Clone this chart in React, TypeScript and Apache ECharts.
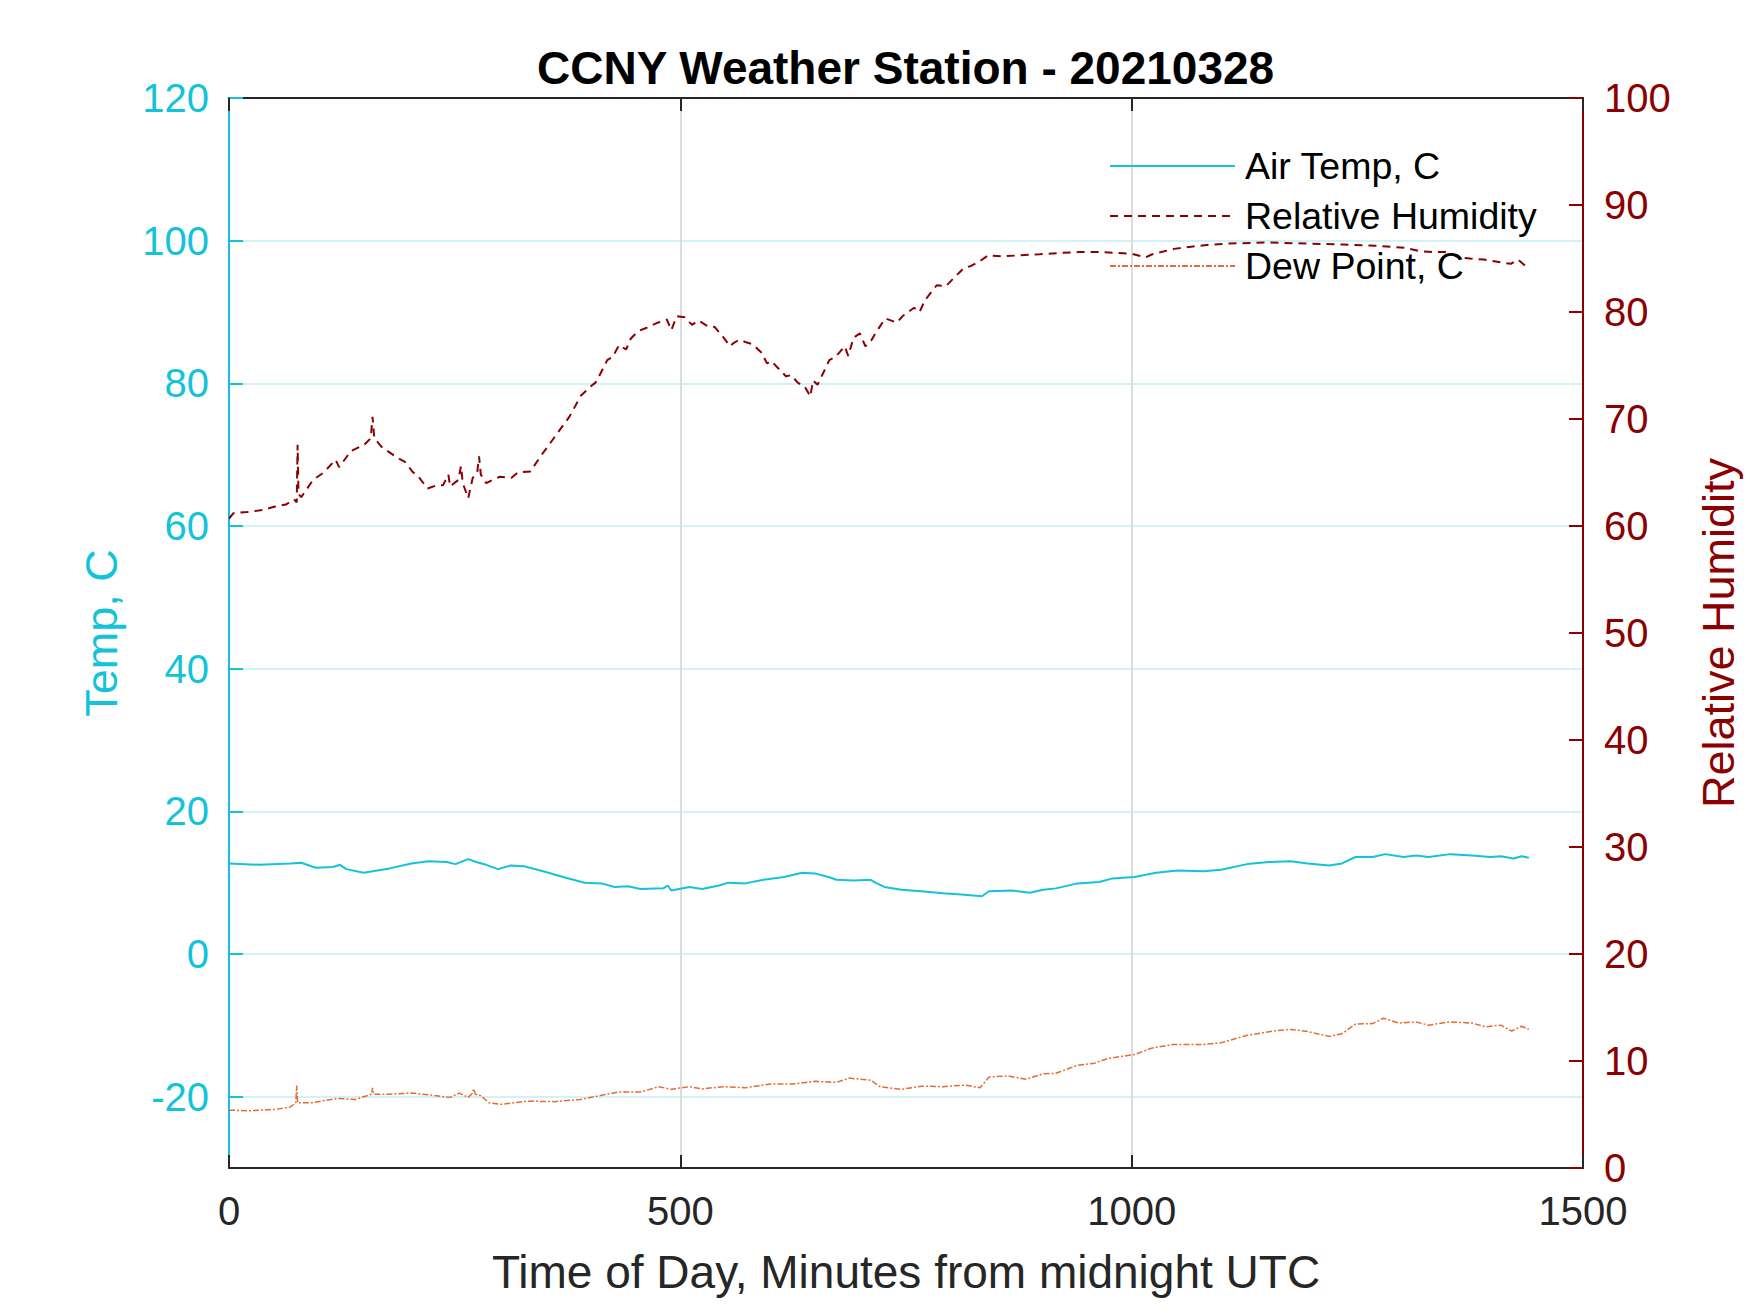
import * as echarts from "echarts";
import { useEffect, useRef } from "react";

// minutes from midnight UTC
const tempMinutes = [0, 34, 68, 80, 96, 115, 123, 130, 149, 178, 202, 221, 241, 251, 265, 274, 285, 298, 312, 327, 351, 370, 394, 413, 427, 442, 456, 481, 486, 490, 510, 524, 543, 553, 572, 592, 615, 635, 649, 664, 673, 692, 711, 716, 726, 745, 767, 791, 815, 834, 842, 868, 887, 902, 916, 940, 964, 979, 1003, 1027, 1051, 1080, 1099, 1128, 1152, 1176, 1195, 1219, 1233, 1248, 1267, 1281, 1301, 1315, 1329, 1353, 1377, 1397, 1409, 1423, 1432, 1440];
const tempValues = [12.7, 12.5, 12.7, 12.8, 12.1, 12.2, 12.5, 11.9, 11.4, 12.0, 12.7, 13.0, 12.9, 12.6, 13.3, 12.9, 12.5, 11.9, 12.4, 12.3, 11.5, 10.8, 10.0, 9.9, 9.4, 9.5, 9.1, 9.2, 9.6, 8.9, 9.4, 9.1, 9.6, 10.0, 9.9, 10.4, 10.8, 11.4, 11.3, 10.8, 10.4, 10.3, 10.4, 10.0, 9.4, 9.0, 8.8, 8.5, 8.3, 8.1, 8.8, 8.9, 8.6, 9.0, 9.2, 9.9, 10.1, 10.6, 10.8, 11.4, 11.7, 11.6, 11.8, 12.6, 12.9, 13.0, 12.7, 12.4, 12.7, 13.6, 13.6, 14.0, 13.6, 13.8, 13.6, 14.0, 13.8, 13.6, 13.7, 13.4, 13.7, 13.5];

const rhMinutes = [0, 5, 20, 38, 50, 63, 72, 75, 76, 77, 80, 85, 93, 105, 118, 122, 135, 150, 157, 159, 161, 169, 186, 195, 203, 210, 220, 230, 237, 243, 245, 254, 257, 259, 265, 270, 275, 277, 279, 285, 292, 300, 313, 320, 334, 345, 352, 364, 377, 390, 400, 406, 410, 419, 425, 432, 440, 445, 453, 462, 475, 485, 490, 496, 505, 513, 520, 530, 538, 548, 555, 559, 565, 572, 580, 590, 596, 601, 610, 617, 623, 630, 638, 644, 647, 652, 660, 665, 672, 682, 686, 692, 699, 705, 712, 716, 727, 740, 746, 759, 765, 771, 784, 794, 801, 814, 822, 831, 841, 856, 877, 898, 917, 941, 966, 991, 1002, 1015, 1023, 1047, 1066, 1088, 1108, 1151, 1193, 1235, 1270, 1303, 1318, 1333, 1350, 1362, 1375, 1390, 1405, 1420, 1428, 1439];
const rhValues = [60.7, 61.2, 61.3, 61.5, 61.8, 62.0, 62.5, 62.2, 67.6, 63.0, 62.7, 63.3, 64.3, 65.0, 66.2, 65.5, 67.0, 67.6, 68.2, 70.2, 68.2, 67.4, 66.4, 66.0, 65.1, 64.6, 63.5, 63.8, 63.8, 64.8, 63.7, 64.3, 65.6, 64.0, 62.6, 64.5, 65.0, 66.5, 64.8, 64.0, 64.3, 64.6, 64.5, 65.0, 65.1, 66.5, 67.3, 68.7, 70.2, 72.2, 73.0, 73.4, 74.0, 75.5, 75.8, 76.9, 76.5, 77.5, 78.2, 78.5, 79.0, 79.3, 78.3, 79.6, 79.5, 78.8, 79.2, 78.7, 78.6, 77.6, 76.8, 77.1, 77.4, 77.2, 77.0, 76.2, 75.2, 75.4, 74.6, 74.0, 74.1, 73.4, 73.0, 72.1, 73.6, 73.2, 74.6, 75.5, 75.8, 76.8, 75.9, 77.6, 78.0, 76.8, 77.4, 78.0, 79.4, 79.0, 79.6, 80.4, 80.0, 81.1, 82.5, 82.4, 83.0, 84.1, 84.3, 84.7, 85.3, 85.2, 85.3, 85.4, 85.5, 85.6, 85.6, 85.5, 85.4, 85.1, 85.4, 85.9, 86.1, 86.3, 86.4, 86.5, 86.4, 86.3, 86.2, 86.0, 85.7, 85.6, 85.6, 85.1, 85.0, 84.9, 84.7, 84.5, 84.9, 84.1];

const dewMinutes = [0, 24, 53, 68, 74, 75, 76, 92, 105, 120, 140, 158, 159, 160, 178, 202, 226, 245, 255, 265, 270, 271, 273, 279, 288, 302, 331, 360, 389, 413, 432, 456, 476, 490, 510, 524, 548, 572, 600, 625, 649, 673, 687, 711, 721, 745, 767, 791, 815, 832, 842, 863, 883, 902, 916, 940, 959, 974, 1003, 1022, 1046, 1080, 1099, 1128, 1157, 1176, 1195, 1219, 1233, 1248, 1267, 1279, 1296, 1315, 1329, 1351, 1377, 1392, 1409, 1421, 1432, 1440];
const dewValues = [5.4, 5.35, 5.5, 5.7, 6.1, 7.7, 6.1, 6.1, 6.3, 6.5, 6.4, 6.9, 7.5, 6.9, 6.9, 7.0, 6.8, 6.6, 7.0, 6.6, 7.0, 7.4, 6.9, 6.75, 6.1, 5.95, 6.25, 6.2, 6.4, 6.8, 7.1, 7.1, 7.6, 7.35, 7.6, 7.4, 7.6, 7.5, 7.85, 7.85, 8.1, 8.0, 8.4, 8.2, 7.6, 7.35, 7.65, 7.6, 7.75, 7.5, 8.5, 8.6, 8.3, 8.8, 8.85, 9.6, 9.8, 10.25, 10.6, 11.2, 11.55, 11.55, 11.7, 12.4, 12.8, 12.95, 12.75, 12.3, 12.55, 13.45, 13.5, 14.0, 13.55, 13.65, 13.35, 13.65, 13.55, 13.2, 13.35, 12.8, 13.25, 12.95];

const tempTicks = [-20, 0, 20, 40, 60, 80, 100, 120];

const CYAN = "#13C3DA";
const DARK_RED = "#8B0000";
const ORANGE = "#E46C33";
const AXIS_GREY = "#262626";
const FONT = "'Liberation Sans', Arial, sans-serif";

const pairs = (xs: number[], ys: number[]) => xs.map((x, i) => [x, ys[i]]);

export default function App() {
  const ref = useRef<HTMLDivElement>(null);

  useEffect(() => {
    const chart = echarts.init(ref.current!, null, { renderer: "svg" });
    chart.setOption({
      animation: false,
      backgroundColor: "#ffffff",
      textStyle: { fontFamily: FONT },
      title: {
        text: "CCNY Weather Station - 20210328",
        left: 537,
        top: 45,
        padding: 0,
        textStyle: { fontFamily: FONT, fontSize: 46, fontWeight: "bold", color: "#000" },
      },
      grid: { left: 229, right: 167, top: 98, bottom: 145 },
      legend: {
        orient: "vertical",
        left: 1104,
        top: 142,
        itemWidth: 125,
        itemHeight: 14,
        itemGap: 12,
        align: "left",
        itemStyle: { opacity: 0 },
        textStyle: { fontFamily: FONT, fontSize: 37.5, color: "#000", padding: [0, 0, 0, 5] },
        data: ["Air Temp, C", "Relative Humidity", "Dew Point, C"],
      },
      xAxis: [
        {
          type: "value",
          position: "bottom",
          min: 0,
          max: 1500,
          interval: 500,
          name: "Time of Day, Minutes from midnight UTC",
          nameLocation: "middle",
          nameGap: 81,
          nameTextStyle: { fontFamily: FONT, fontSize: 46, color: AXIS_GREY },
          axisLine: { onZero: false, lineStyle: { color: AXIS_GREY, width: 2 } },
          axisTick: { inside: true, length: 13, lineStyle: { color: AXIS_GREY, width: 2 } },
          axisLabel: {
            fontFamily: FONT,
            fontSize: 40,
            color: AXIS_GREY,
            margin: 23,
            formatter: (v: number) => String(v),
          },
          splitLine: { show: true, lineStyle: { color: "#DCDCDC", width: 2 } },
        },
        {
          type: "value",
          position: "top",
          min: 0,
          max: 1500,
          interval: 500,
          axisLine: { onZero: false, lineStyle: { color: AXIS_GREY, width: 2 } },
          axisTick: { inside: true, length: 13, lineStyle: { color: AXIS_GREY, width: 2 } },
          axisLabel: { show: false },
          splitLine: { show: false },
        },
      ],
      yAxis: [
        {
          type: "value",
          position: "left",
          min: -30,
          max: 120,
          name: "Temp, C",
          nameLocation: "middle",
          nameRotate: 90,
          nameGap: 105,
          nameTextStyle: { fontFamily: FONT, fontSize: 45, color: CYAN },
          axisLine: { show: true, onZero: false, lineStyle: { color: CYAN, width: 2 } },
          axisTick: { show: true, inside: true, length: 14, customValues: tempTicks, lineStyle: { color: CYAN, width: 2 } },
          axisLabel: { fontFamily: FONT, fontSize: 40, color: CYAN, margin: 20, customValues: tempTicks },
          splitLine: { show: true, lineStyle: { color: "#D2F2F7", width: 2 } },
        },
        {
          type: "value",
          position: "right",
          min: 0,
          max: 100,
          interval: 10,
          name: "Relative Humidity",
          nameLocation: "middle",
          nameRotate: 90,
          nameGap: 113,
          nameTextStyle: { fontFamily: FONT, fontSize: 45, color: DARK_RED },
          axisLine: { show: true, onZero: false, lineStyle: { color: DARK_RED, width: 2 } },
          axisTick: { show: true, inside: true, length: 14, lineStyle: { color: DARK_RED, width: 2 } },
          axisLabel: { fontFamily: FONT, fontSize: 40, color: DARK_RED, margin: 21 },
          splitLine: { show: false },
        },
      ],
      series: [
        {
          name: "Air Temp, C",
          type: "line",
          xAxisIndex: 0,
          yAxisIndex: 0,
          symbol: "none",
          data: pairs(tempMinutes, tempValues),
          lineStyle: { color: CYAN, width: 2 },
          itemStyle: { color: CYAN },
        },
        {
          name: "Relative Humidity",
          type: "line",
          xAxisIndex: 0,
          yAxisIndex: 1,
          symbol: "none",
          data: pairs(rhMinutes, rhValues),
          lineStyle: { color: DARK_RED, width: 2, type: [8, 6] },
          itemStyle: { color: DARK_RED },
        },
        {
          name: "Dew Point, C",
          type: "line",
          xAxisIndex: 0,
          yAxisIndex: 1,
          symbol: "none",
          data: pairs(dewMinutes, dewValues),
          lineStyle: { color: ORANGE, width: 1.5, type: [6, 2, 2, 2] },
          itemStyle: { color: ORANGE },
        },
      ],
    });
    return () => chart.dispose();
  }, []);

  return (
    <div
      ref={ref}
      style={{ position: "absolute", left: 0, top: 0, width: 1750, height: 1313, background: "#fff" }}
    />
  );
}
